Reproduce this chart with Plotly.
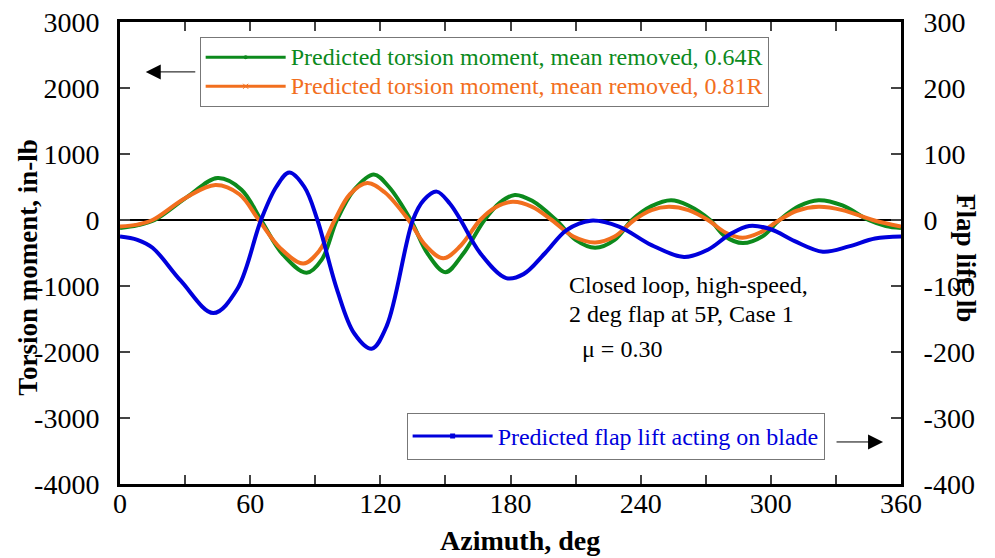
import plotly.graph_objects as go

# Azimuth (deg) and torsion moment (in-lb), mean removed, 0.64R
az_064 = [0, 8, 16, 31, 45, 56, 65, 75, 86, 93, 100, 108, 117, 124, 134, 142, 150,
          158, 168, 175, 182, 190, 201, 210, 219, 228, 236, 245, 254, 262, 272, 279,
          287, 296, 304, 313, 322, 333, 345, 353, 360]
tm_064 = [-120, -80, 0, 350, 635, 460, 0, -520, -800, -600, 0, 460, 690, 500, 0, -520,
          -790, -520, 0, 260, 380, 290, 0, -300, -420, -300, 0, 210, 300, 220, 0, -250,
          -350, -250, 0, 210, 300, 220, 0, -90, -120]

# Torsion moment (in-lb), mean removed, 0.81R
az_081 = [0, 8, 15, 30, 44, 55, 64, 74, 84.5, 92, 99, 106, 114, 122, 133, 141, 149,
          157, 166, 173, 181, 190, 199, 209, 219, 228, 237, 245, 253, 262, 271, 279,
          287, 295, 304, 312, 322, 333, 347, 360]
tm_081 = [-100, -70, 0, 330, 530, 390, 0, -430, -660, -460, 0, 390, 560, 420, 0, -390,
          -580, -390, 0, 190, 275, 200, 0, -250, -340, -250, 0, 150, 200, 150, 0, -190,
          -270, -190, 0, 140, 200, 150, 0, -100]

# Flap lift acting on blade (lb)
az_flap = [0, 8, 15, 28, 43, 54, 65, 72, 78, 85, 91, 100, 108, 116, 123, 135, 140, 146,
           152, 157, 166, 178, 186, 196, 206, 217, 230, 245, 260, 271, 281, 290, 300,
           311, 324, 336, 348, 360]
flap = [-25, -30, -42, -92, -141, -105, 0, 50, 72, 50, 0, -105, -172, -195, -160, 0, 30,
        43, 25, 0, -50, -88, -82, -50, -15, -1, -10, -38, -56, -45, -22, -9, -14, -32,
        -48, -40, -28, -25]

# tick values (labels use a plain hyphen, like the original)
x_ticks = [0, 60, 120, 180, 240, 300, 360]
y_ticks = [-4000, -3000, -2000, -1000, 0, 1000, 2000, 3000]
y2_ticks = [-400, -300, -200, -100, 0, 100, 200, 300]

GREEN = "#0c8a1c"
ORANGE = "#f26f1e"
BLUE = "#0000dc"
FONT = "Liberation Serif"


def legend_label(text, color):
    # bigger text than the legend font, so the rows stay as tight as in the original
    return f"<span style='color:{color};font-size:24px'>{text}</span>"


fig = go.Figure()

# curves (legend entries come from dummy traces so the markers only show in the legend)
fig.add_trace(go.Scatter(x=az_064, y=tm_064, mode="lines",
                         line=dict(color=GREEN, width=4, shape="spline"), showlegend=False))
fig.add_trace(go.Scatter(x=az_081, y=tm_081, mode="lines",
                         line=dict(color=ORANGE, width=4, shape="spline"), showlegend=False))
fig.add_trace(go.Scatter(x=az_flap, y=flap, yaxis="y2", mode="lines",
                         line=dict(color=BLUE, width=4, shape="spline"), showlegend=False))

fig.add_trace(go.Scatter(
    x=[None], y=[None], mode="lines+markers", line=dict(color=GREEN, width=3),
    marker=dict(size=4, symbol="circle"), legend="legend",
    name=legend_label("Predicted torsion moment, mean removed, 0.64R", GREEN)))
fig.add_trace(go.Scatter(
    x=[None], y=[None], mode="lines+markers", line=dict(color=ORANGE, width=3),
    marker=dict(size=5, symbol="x-thin", line=dict(color=ORANGE, width=1)), legend="legend",
    name=legend_label("Predicted torsion moment, mean removed, 0.81R", ORANGE)))
fig.add_trace(go.Scatter(
    x=[None], y=[None], mode="lines+markers", line=dict(color=BLUE, width=3),
    marker=dict(size=5, symbol="square"), legend="legend2",
    name=legend_label("Predicted flap lift acting on blade", BLUE)))

# the page body adds an 8 px offset, so the margins are shifted to compensate
fig.update_layout(
    width=995, height=558,
    margin=dict(l=112, r=102, t=14, b=82),
    paper_bgcolor="white", plot_bgcolor="white",
    font=dict(family=FONT, size=28, color="black"),
    xaxis=dict(
        range=[0, 360], tickvals=x_ticks, ticktext=[str(v) for v in x_ticks],
        ticks="inside", ticklen=9, tickwidth=1.5, ticklabelstandoff=-8,
        ticklabeloverflow="allow",
        minor=dict(dtick=30, ticks="inside", ticklen=9, tickwidth=1.5),
        showline=True, linewidth=3, linecolor="black", mirror="ticks",
        showgrid=False, zeroline=False, automargin=False,
    ),
    yaxis=dict(
        range=[-4000, 3000], tickvals=y_ticks, ticktext=[str(v) for v in y_ticks],
        ticks="inside", ticklen=10, tickwidth=1.5, ticklabelstandoff=12,
        ticklabeloverflow="allow",
        showline=True, linewidth=3, linecolor="black", showgrid=False,
        zeroline=True, zerolinecolor="black", zerolinewidth=1.5, automargin=False,
    ),
    yaxis2=dict(
        range=[-400, 300], tickvals=y2_ticks, ticktext=[str(v) for v in y2_ticks],
        overlaying="y", side="right", ticks="inside", ticklabelstandoff=14,
        ticklabeloverflow="allow",
        ticklen=10, tickwidth=1.5, showline=True, linewidth=3, linecolor="black",
        showgrid=False, zeroline=False, automargin=False,
    ),
    legend=dict(
        x=0.102, y=0.968, xanchor="left", yanchor="top",
        bgcolor="white", bordercolor="#777777", borderwidth=1,
        font=dict(family=FONT, size=20), tracegroupgap=0, itemwidth=80,
    ),
    legend2=dict(
        x=0.367, y=0.154, xanchor="left", yanchor="top",
        bgcolor="white", bordercolor="#777777", borderwidth=1,
        font=dict(family=FONT, size=24), itemwidth=80,
    ),
)

# axis titles
fig.add_annotation(xref="paper", yref="paper", x=-0.118, y=0.468,
                   xanchor="center", yanchor="middle",
                   text="<b>Torsion moment, in-lb</b>", textangle=-90, showarrow=False,
                   font=dict(size=27))
fig.add_annotation(xref="paper", yref="paper", x=1.084, y=0.49,
                   xanchor="center", yanchor="middle",
                   text="<b>Flap lift, lb</b>", textangle=90, showarrow=False,
                   font=dict(size=27))
fig.add_annotation(xref="paper", yref="paper", x=0.512, y=-0.123,
                   xanchor="center", yanchor="middle",
                   text="<b>Azimuth, deg</b>", showarrow=False, font=dict(size=28))

# case description
fig.add_annotation(xref="x", yref="y", x=206, y=-980, text="Closed loop, high-speed,",
                   showarrow=False, xanchor="left", yanchor="middle", font=dict(size=24))
fig.add_annotation(xref="x", yref="y", x=206, y=-1430, text="2 deg flap at 5P, Case 1",
                   showarrow=False, xanchor="left", yanchor="middle", font=dict(size=24))
fig.add_annotation(xref="x", yref="y", x=212, y=-1950, text="μ = 0.30",
                   showarrow=False, xanchor="left", yanchor="middle", font=dict(size=24))

# arrows pointing to the axis each legend belongs to
fig.add_annotation(xref="paper", yref="paper", x=0.033, y=0.892, ax=51, ay=0,
                   text="", showarrow=True, arrowhead=2, arrowsize=3, arrowwidth=1,
                   arrowcolor="black")
fig.add_annotation(xref="paper", yref="paper", x=0.977, y=0.091, ax=-48, ay=0,
                   text="", showarrow=True, arrowhead=2, arrowsize=3, arrowwidth=1,
                   arrowcolor="black")

fig.write_html("out.html")
